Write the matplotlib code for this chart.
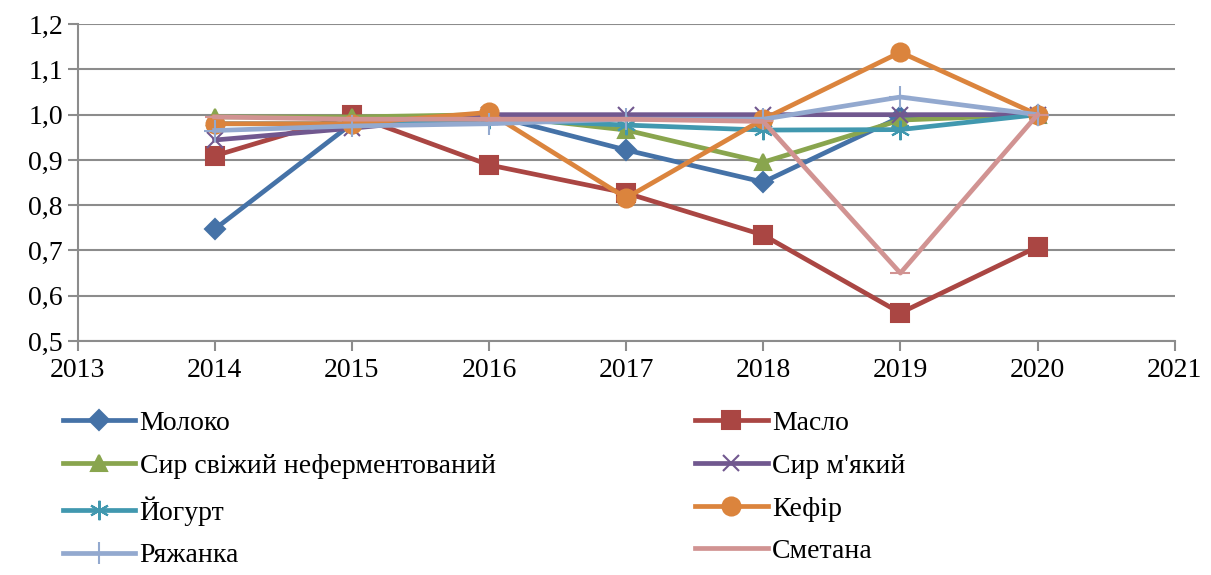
import matplotlib.pyplot as plt

plt.rcParams['font.family'] = 'Liberation Serif'
FONT = 'Liberation Serif'

# Years and index values per product.
years = [2014, 2015, 2016, 2017, 2018, 2019, 2020]
moloko = [0.747, 0.98, 1.0, 0.922, 0.851, 0.995, 1.0]
maslo = [0.909, 1.0, 0.889, 0.827, 0.734, 0.562, 0.708]
syr_svizhyi = [0.995, 0.995, 1.0, 0.966, 0.895, 0.988, 1.0]
syr_miakyi = [0.944, 0.97, 1.0, 1.0, 1.0, 1.0, 1.0]
yogurt = [0.98, 0.98, 0.99, 0.977, 0.966, 0.967, 1.0]
kefir = [0.98, 0.98, 1.005, 0.816, 0.99, 1.138, 1.0]
riazhanka = [0.965, 0.975, 0.98, 0.99, 0.99, 1.039, 1.0]
smetana = [0.995, 0.99, 0.99, 0.99, 0.985, 0.65, 1.0]

names = ['Молоко', 'Масло', 'Сир свіжий неферментований', "Сир м'який",
         'Йогурт', 'Кефір', 'Ряжанка', 'Сметана']
series = [moloko, maslo, syr_svizhyi, syr_miakyi, yogurt, kefir, riazhanka, smetana]
colors = ['#4572A7', '#AA4643', '#89A54E', '#71588F',
          '#4198AF', '#DB843D', '#93A9CF', '#D19392']
markers = ['D', 's', '^', 'x', (6, 2, 0), 'o', '+', '_']
msizes = [10, 13, 12, 12, 14, 13, 16, 14]

x_ticks = list(range(2013, 2022))
y_ticks = [0.5, 0.6, 0.7, 0.8, 0.9, 1.0, 1.1, 1.2]
y_labels = [f'{v:.1f}'.replace('.', ',') for v in y_ticks]

fig = plt.figure(figsize=(12.11, 5.75), dpi=100)
ax = fig.add_axes([0.064, 0.407, 0.906, 0.551])

handles = []
for name, vals, c, m, ms in zip(names, series, colors, markers, msizes):
    h, = ax.plot(years, vals, color=c, lw=3.4, marker=m, markersize=ms,
                 markeredgewidth=1.5, markeredgecolor=c, label=name)
    handles.append(h)

ax.set_xlim(2013, 2021)
ax.set_ylim(0.5, 1.2)
ax.set_xticks(x_ticks)
ax.set_xticklabels([str(x) for x in x_ticks], fontsize=20)
ax.set_yticks(y_ticks)
ax.set_yticklabels(y_labels, fontsize=20)
ax.grid(axis='y', color='#8c8c8c', lw=1.5)
ax.set_axisbelow(True)
for s in ['top', 'right']:
    ax.spines[s].set_visible(False)
for s in ['left', 'bottom']:
    ax.spines[s].set_color('#8c8c8c')
    ax.spines[s].set_linewidth(1.5)
ax.tick_params(axis='both', color='#8c8c8c', width=1.5, length=7)
ax.tick_params(axis='x', pad=5)

# two legend columns, filled row by row
kw = dict(loc='upper left', frameon=False, fontsize=20,
          handlelength=2.6, handletextpad=0.15, labelspacing=0.62, borderaxespad=0)
leg1 = fig.legend(handles[0::2], names[0::2], bbox_to_anchor=(0.043, 0.305), **kw)
leg2 = fig.legend(handles[1::2], names[1::2], bbox_to_anchor=(0.565, 0.305), **kw)

fig.canvas.draw()
for t in ax.get_xticklabels() + ax.get_yticklabels() + leg1.get_texts() + leg2.get_texts():
    t.set_fontfamily(FONT)

fig.savefig('out.png', dpi=100)
